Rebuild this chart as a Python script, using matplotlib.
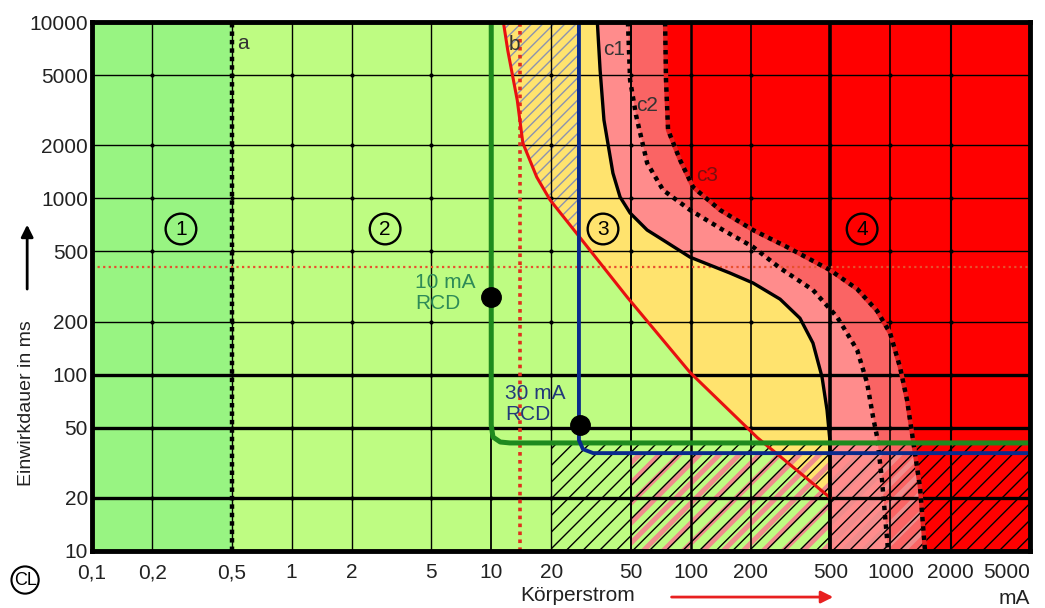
import numpy as np
import matplotlib.pyplot as plt

plt.rcParams['font.family'] = ['Liberation Sans', 'DejaVu Sans']

# Achsenteilung
x_ticks = [0.1, 0.2, 0.5, 1, 2, 5, 10, 20, 50, 100, 200, 500, 1000, 2000, 5000]
x_labels = ['0,1', '0,2', '0,5', '1', '2', '5', '10', '20', '50', '100',
            '200', '500', '1000', '2000', '5000']
y_ticks = [10, 20, 50, 100, 200, 500, 1000, 2000, 5000, 10000]
y_labels = [str(v) for v in y_ticks]

# Grenzkurven (Koerperstrom mA, Einwirkdauer ms)
b_x = [11.5, 12.1, 13.5, 14.4, 16.9, 19.7, 27.8, 48, 99, 215, 500]
b_y = [10000, 6900, 3600, 2060, 1320, 980, 600, 275, 103, 44, 20]
c1_x = [34, 35.1, 36.7, 40.7, 44.2, 49.6, 60.4, 72.6, 99, 157, 205, 280, 352, 409, 454, 481, 497, 497]
c1_y = [10000, 5350, 2780, 1390, 1017, 826, 661, 580, 464, 377, 331, 268, 209, 151, 97, 63, 42.6, 10]
c2_x = [48.4, 49.6, 53.1, 60.4, 72.6, 99, 145, 205, 280, 409, 541, 681, 764, 818, 857, 907, 973]
c2_y = [10000, 4690, 2970, 1585, 1114, 859, 661, 530, 402, 302, 212, 138, 89.6, 57.5, 44.3, 25.2, 10]
c3_x = [74.3, 75.1, 76.9, 88.3, 102.5, 140, 205, 303, 498, 681, 857, 996, 1117, 1211, 1297, 1406, 1490]
c3_y = [10000, 4690, 2440, 1649, 1159, 859, 661, 530, 392, 306, 230, 172, 110, 71.8, 42.6, 23, 10]

# Schutzschalter-Kennlinien
rcd10_x = [10, 10, 10.2, 11.1, 12.4, 5000]
rcd10_y = [10000, 51.8, 44.3, 41.5, 41, 41]
rcd30_x = [27.5, 27.5, 28.8, 32.4, 5000]
rcd30_y = [10000, 42.6, 37.8, 35.9, 35.9]
dot_x = [10, 27.8]
dot_y = [275, 52]

line_a = 0.5        # Wahrnehmungsschwelle
line_red_x = 14     # rote Punktlinie senkrecht
line_red_y = 410    # rote Punktlinie waagerecht

# Farben
c_zone1 = '#98F482'
c_zone2 = '#BEFC82'
c_zone3 = '#FFE36E'
c_pink1 = '#FF8C8C'
c_pink2 = '#FA6464'
c_red = '#FF0000'

W, H = 1045, 608
fig = plt.figure(figsize=(W / 100, H / 100), dpi=100)
ax_box = [92, 22, 1030, 551]   # links, oben, rechts, unten in Pixel
ax = fig.add_axes([ax_box[0] / W, 1 - ax_box[3] / H,
                   (ax_box[2] - ax_box[0]) / W, (ax_box[3] - ax_box[1]) / H])
ax.set_xscale('log')
ax.set_yscale('log')
ax.set_xlim(0.1, 5000)
ax.set_ylim(10, 10000)

# Bereiche
ax.axvspan(0.1, line_a, color=c_zone1, lw=0, zorder=0)
ax.axvspan(line_a, 5000, color=c_zone2, lw=0, zorder=0)
ax.fill(b_x + [500, 5000, 5000], b_y + [10, 10, 10000], color=c_zone3, lw=0, zorder=0.2)
ax.fill(c1_x + [5000, 5000], c1_y + [10, 10000], color=c_pink1, lw=0, zorder=0.3)
ax.fill(c2_x + [5000, 5000], c2_y + [10, 10000], color=c_pink2, lw=0, zorder=0.4)
ax.fill(c3_x + [5000, 5000], c3_y + [10, 10000], color=c_red, lw=0, zorder=0.5)

# Schraffur oben zwischen b und 30-mA-Linie
xr = rcd30_x[0]
yb = 10 ** np.interp(np.log10(xr), np.log10(b_x), np.log10(b_y))
hx = [v for v in b_x if v < xr] + [xr, xr]
hy = [b_y[i] for i, v in enumerate(b_x) if v < xr] + [yb, 10000]
ax.fill(hx, hy, facecolor='none', edgecolor='#8C93B0', hatch='///', lw=0, zorder=0.6)

# rosa Streifen unten (bis c3), als geclippte Diagonalen
ys = rcd30_y[-1]
xs = 10 ** np.interp(np.log10(ys), np.log10(c3_y[::-1]), np.log10(c3_x[::-1]))
px = [50, xs] + [c3_x[i] for i, v in enumerate(c3_y) if v < ys] + [50]
py = [ys, ys] + [v for v in c3_y if v < ys] + [10]
clip = ax.fill(px, py, facecolor='none', lw=0, zorder=0.7)[0]
aw = ax_box[2] - ax_box[0]
ah = ax_box[3] - ax_box[1]
for t in np.arange(-ah / aw, 1.0, 20 / aw):
    ln, = ax.plot([t, t + ah / aw], [0, 1], transform=ax.transAxes, color='#F08C8C',
                  lw=3.6, zorder=0.7, solid_capstyle='butt')
    ln.set_clip_path(clip)

# schwarze Schraffur unten
ax.fill([20, 5000, 5000, 20], [10, 10, rcd10_y[-1], rcd10_y[-1]],
        facecolor='none', edgecolor='black', hatch='//', lw=0, zorder=0.8)

# Gitter
x_lw = {0.2: 1.0, 0.5: 1.0, 1: 1.0, 2: 1.0, 5: 1.0, 10: 1.3, 20: 1.0, 50: 1.4,
        100: 1.8, 200: 1.2, 500: 2.6, 1000: 1.2, 2000: 1.5}
y_lw = {20: 2.4, 50: 2.4, 100: 2.4, 200: 1.0, 500: 1.0, 1000: 1.0, 2000: 1.0, 5000: 1.0}
for v, w in x_lw.items():
    ax.axvline(v, color='black', lw=w, zorder=1)
for v, w in y_lw.items():
    ax.axhline(v, color='black', lw=w, zorder=1)
gx, gy = np.meshgrid(x_ticks[1:-1], y_ticks[1:-1])
ax.scatter(gx.ravel(), gy.ravel(), s=9, color='black', zorder=1.1, lw=0)

# Hilfslinien
ax.axvline(line_red_x, color='#E0301E', lw=2.6, ls=(0, (1, 1.2)), zorder=2)
ax.axhline(line_red_y, color='#E8502E', lw=1.6, ls=(0, (1, 1.5)), zorder=2)
ax.axvline(line_a, color='black', lw=3.2, ls=(0, (1, 0.9)), zorder=2)

# Kurven
ax.plot(b_x, b_y, color='#E81010', lw=2.2, zorder=3)
ax.plot(c1_x, c1_y, color='black', lw=2.4, zorder=3)
ax.plot(c2_x, c2_y, color='black', lw=3.2, ls=(0, (1, 1.1)), zorder=3.1)
ax.plot(c3_x, c3_y, color='#E82020', lw=3.2, zorder=3)
ax.plot(c3_x, c3_y, color='black', lw=3.2, ls=(0, (1, 1.1)), zorder=3.1)

ax.plot(rcd10_x, rcd10_y, color='#1E8A1E', lw=3.6, zorder=3.5, solid_capstyle='butt')
ax.plot(rcd30_x, rcd30_y, color='#0A2A8C', lw=2.8, zorder=3.5, solid_capstyle='butt')
ax.plot(dot_x, dot_y, 'o', color='black', ms=14, zorder=4)

# Beschriftungen im Diagramm
ax.text(4.15, 290, '10 mA\nRCD', color='#2E8B57', fontsize=15, ha='left', va='center',
        linespacing=1.15, zorder=5)
ax.text(11.7, 68, '30 mA\nRCD', color='#223A7A', fontsize=15, ha='left', va='center',
        linespacing=1.15, zorder=5)

for lx, ly, t, c in [(0.532, 7600, 'a', '#333333'), (12.3, 7500, 'b', '#333333'),
                     (36.5, 7000, 'c1', '#333333'), (53.1, 3380, 'c2', '#333333'),
                     (106, 1355, 'c3', '#7A1010')]:
    ax.text(lx, ly, t, color=c, fontsize=15, ha='left', va='center', zorder=5)

for zx, t in [(0.279, '1'), (2.94, '2'), (36.3, '3'), (721, '4')]:
    ax.text(zx, 670, t, fontsize=15, ha='center', va='center', zorder=5,
            bbox=dict(boxstyle='circle,pad=0.28', fc='none', ec='black', lw=1.7))

# Achsen
ax.set_xticks(x_ticks)
ax.set_xticklabels(x_labels)
ax.set_yticks(y_ticks)
ax.set_yticklabels(y_labels)
ax.minorticks_off()
ax.tick_params(length=0, labelsize=15, colors='#222222')
ax.tick_params(axis='x', pad=9)
ax.tick_params(axis='y', pad=3)
ax.get_xticklabels()[-1].set_horizontalalignment('right')
for s in ax.spines.values():
    s.set_linewidth(3.5)
    s.set_zorder(6)

fig.text(0.025, 0.337, 'Einwirkdauer in ms', rotation=90, ha='center', va='center',
         fontsize=14, color='#222222')
fig.text(0.553, 0.021, 'Körperstrom', ha='center', va='center', fontsize=15, color='#222222')
fig.text(0.971, 0.016, 'mA', ha='center', va='center', fontsize=15, color='#222222')
fig.text(0.024, 0.046, 'CL', ha='center', va='center', fontsize=13,
         bbox=dict(boxstyle='circle,pad=0.12', fc='none', ec='black', lw=1.5))

ax.annotate('', xy=(0.026, 0.635), xytext=(0.026, 0.52), xycoords='figure fraction',
            arrowprops=dict(arrowstyle='-|>', color='black', lw=2, mutation_scale=18))
ax.annotate('', xy=(0.80, 0.018), xytext=(0.64, 0.018), xycoords='figure fraction',
            arrowprops=dict(arrowstyle='-|>', color='#E82020', lw=2, mutation_scale=18))

fig.savefig('out.png', dpi=100)
